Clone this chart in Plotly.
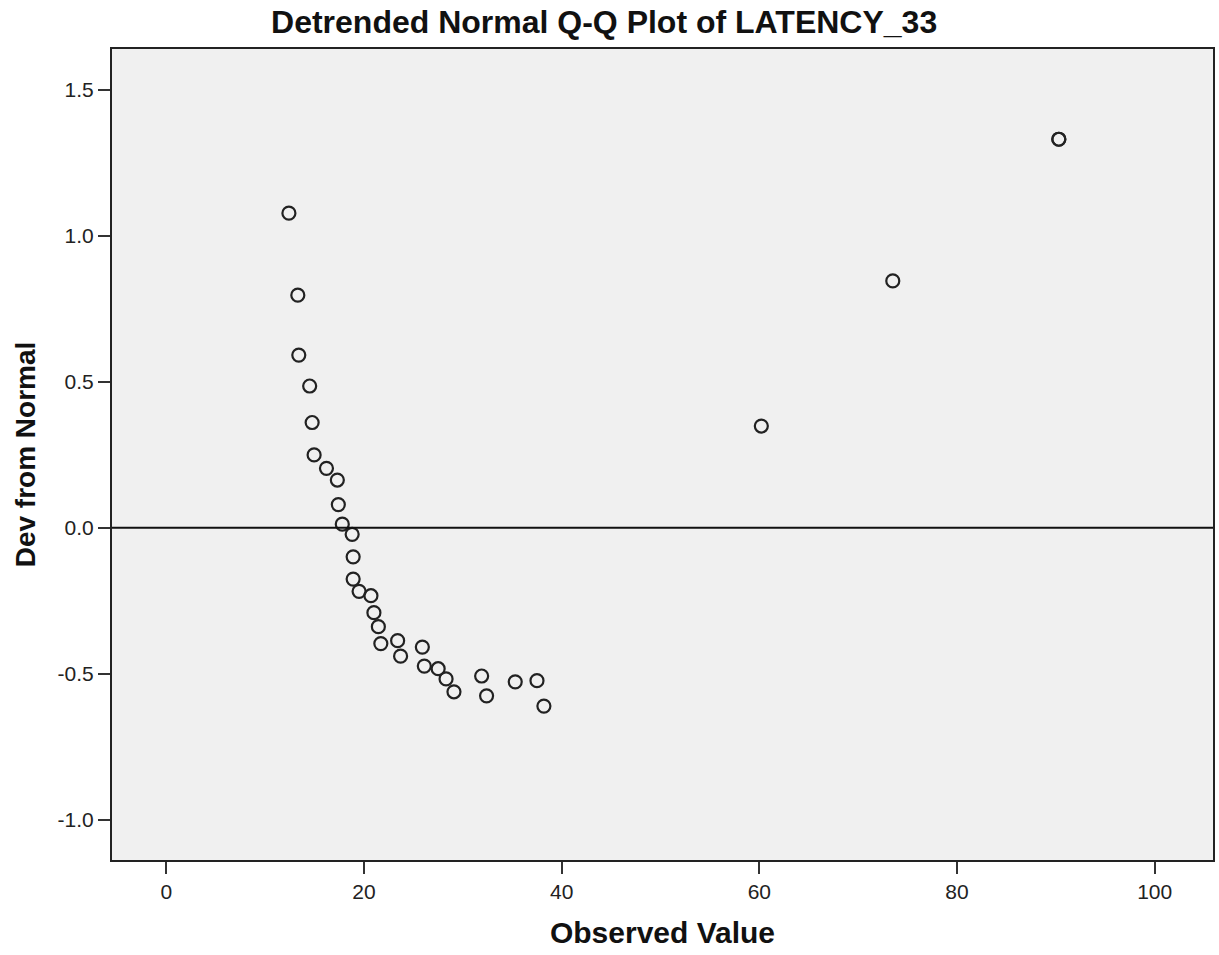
import plotly.graph_objects as go

observed = [12.4, 13.3, 13.4, 14.5, 14.75, 14.95, 16.2, 17.3, 17.4, 17.8, 18.8, 18.9, 18.9,
            19.5, 20.7, 21.0, 21.45, 21.7, 23.4, 23.7, 25.9, 26.1, 27.5, 28.3, 29.1,
            31.9, 32.4, 35.3, 37.5, 38.2, 60.2, 73.5, 90.3, 90.3]
dev_from_normal = [1.077, 0.796, 0.591, 0.485, 0.360, 0.249, 0.203, 0.163, 0.079, 0.012, -0.023,
                   -0.100, -0.176, -0.218, -0.233, -0.291, -0.339, -0.397, -0.387, -0.440,
                   -0.409, -0.474, -0.483, -0.518, -0.562, -0.508, -0.576, -0.528, -0.524,
                   -0.611, 0.348, 0.845, 1.330, 1.330]

x_ticks = [0, 20, 40, 60, 80, 100]
y_ticks = [-1.0, -0.5, 0.0, 0.5, 1.0, 1.5]
y_tick_labels = ["-1.0", "-0.5", "0.0", "0.5", "1.0", "1.5"]

fig = go.Figure()
fig.add_trace(go.Scatter(
    x=observed, y=dev_from_normal, mode="markers",
    marker=dict(symbol="circle-open", size=13, color="#222222", line=dict(width=2.2, color="#222222")),
    showlegend=False, hoverinfo="x+y"))

fig.add_hline(y=0, line=dict(color="#111111", width=2))

font_family = "Liberation Sans, Arial, sans-serif"
fig.update_layout(
    width=1219, height=955,
    margin=dict(l=112, r=4, t=49, b=95),
    paper_bgcolor="white", plot_bgcolor="#f0f0f0",
    font=dict(family=font_family, color="#222222"),
    title=dict(text="<b>Detrended Normal Q-Q Plot of LATENCY_33</b>",
               x=(605 - 112) / (1215 - 112), xref="paper", xanchor="center",
               y=1 - 22/955, yref="container", yanchor="middle",
               font=dict(size=32, color="#111111", family=font_family)),
)

fig.update_xaxes(range=[-5.5, 105.9], tickvals=x_ticks, ticktext=[str(v) for v in x_ticks],
                 ticks="outside", ticklen=12, tickwidth=2, tickcolor="#333333",
                 showgrid=False, zeroline=False, showline=True, linecolor="#222222", linewidth=2,
                 mirror=True, tickfont=dict(size=21, color="#222222"),
                 title=dict(text="<b>Observed Value</b>", font=dict(size=30, color="#111111"), standoff=20))
fig.update_yaxes(range=[-1.138, 1.639], tickvals=y_ticks, ticktext=y_tick_labels,
                 ticks="outside", ticklen=12, tickwidth=2, tickcolor="#333333",
                 showgrid=False, zeroline=False, showline=True, linecolor="#222222", linewidth=2,
                 mirror=True, tickfont=dict(size=21, color="#222222"),
                 title=dict(text="<b>Dev from Normal</b>", font=dict(size=28, color="#111111"), standoff=14))

fig.write_html("out.html")
